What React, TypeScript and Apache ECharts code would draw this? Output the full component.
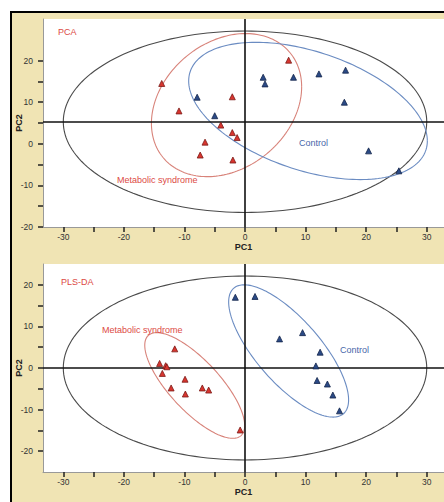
import React, { useEffect, useRef } from 'react';
import * as echarts from 'echarts';

// ---- axis ticks & labels ----
const xTickValues = [-30, -25, -20, -15, -10, -5, 0, 5, 10, 15, 20, 25, 30];
const xLabelValues = [-30, -20, -10, 0, 10, 20, 30];
const yTickValues = [-20, -15, -10, -5, 0, 5, 10, 15, 20];
const yLabelValues = [-20, -10, 0, 10, 20];

// ---- PCA scores (PC1, PC2) ----
const pcaMetabolic: [number, number][] = [
  [-13.75, 14.5], [-10.9, 7.9], [-2.1, 11.3], [-4.0, 4.5], [-2.1, 2.7],
  [-1.3, 1.5], [-6.6, 0.4], [-7.4, -2.7], [-2.0, -3.9], [7.2, 20.1],
];
const pcaControl: [number, number][] = [
  [-7.9, 11.2], [-5.0, 6.75], [3.0, 16.0], [3.3, 14.4], [8.0, 16.0],
  [12.2, 16.8], [16.6, 17.7], [16.4, 10.0], [20.4, -1.7], [25.4, -6.5],
];

// ---- PLS-DA scores ----
const plsMetabolic: [number, number][] = [
  [-11.6, 4.6], [-14.1, 1.1], [-13.1, 0.55], [-12.9, 0.3], [-13.65, -1.3],
  [-12.2, -4.8], [-9.9, -2.7], [-9.85, -6.25], [-7.05, -4.8], [-6.0, -5.3], [-0.8, -14.9],
];
const plsControl: [number, number][] = [
  [-1.6, 17.0], [1.65, 17.2], [5.7, 7.0], [9.5, 8.5], [12.4, 3.8],
  [11.7, 0.5], [11.9, -3.0], [13.6, -3.85], [14.5, -6.5], [15.6, -10.3],
];

// ---- confidence ellipses: [centre PC1, centre PC2, half-width, half-height, correlation] ----
const pcaEllipseAll = [0, 5.3, 30, 21.8, 0];
const pcaEllipseMetabolic = [-3.05, 9.3, 12.4, 17.2, 0.255];
const pcaEllipseControl = [10.4, 7.9, 19.7, 16.5, -0.436];
const plsEllipseAll = [0, 0, 30, 22.1, 0];
const plsEllipseMetabolic = [-8.3, -4.2, 8.25, 12.7, -0.76];
const plsEllipseControl = [7.2, 4.1, 9.9, 15.9, -0.74];

// ---- reference (cross) lines ----
const pcaCross = { x: 0, y: 5.3 };
const plsCross = { x: 0, y: 0 };

const FONT = '"Liberation Sans", Arial, Helvetica, sans-serif';
const RED = '#dc4a44';
const RED_LINE = '#d8837a';
const BLUE_LINE = '#6b8cc2';
const BLUE_TEXT = '#4866aa';
const DARK = '#4a4a4a';

function ellipseSeries(idx: number, params: number[], color: string) {
  return {
    type: 'custom',
    xAxisIndex: idx,
    yAxisIndex: idx,
    silent: true,
    z: 2,
    dimensions: ['cx', 'cy', 'ax', 'ay', 'r'],
    encode: { x: 0, y: 1 },
    data: [params],
    renderItem: (_p: any, api: any) => {
      const cx = api.value(0), cy = api.value(1), ax = api.value(2), ay = api.value(3), r = api.value(4);
      const k = Math.sqrt(1 - r * r);
      const pts: number[][] = [];
      const n = 180;
      for (let i = 0; i <= n; i++) {
        const t = (i / n) * Math.PI * 2;
        pts.push(api.coord([cx + ax * Math.cos(t), cy + ay * (r * Math.cos(t) + k * Math.sin(t))]));
      }
      return {
        type: 'polyline',
        shape: { points: pts },
        style: { stroke: color, lineWidth: 1.1, fill: null },
      };
    },
  };
}

function scatter(idx: number, data: [number, number][], fill: string, border: string, cross?: { x: number; y: number }) {
  const s: any = {
    type: 'scatter',
    xAxisIndex: idx,
    yAxisIndex: idx,
    symbol: 'triangle',
    symbolSize: 6,
    z: 5,
    itemStyle: { color: fill, borderColor: border, borderWidth: 0.8, opacity: 1 },
    data,
  };
  if (cross) {
    s.markLine = {
      silent: true,
      symbol: ['none', 'none'],
      label: { show: false },
      lineStyle: { color: '#111', width: 1.6, type: 'solid' },
      data: [{ xAxis: cross.x }, { yAxis: cross.y }],
      z: 3,
    };
  }
  return s;
}

function xAxis(idx: number) {
  return {
    type: 'value',
    gridIndex: idx,
    min: -33.35,
    max: 32.85,
    name: 'PC1',
    nameLocation: 'middle',
    nameGap: 15,
    nameMoveOverlap: false,
    nameTextStyle: { fontWeight: 'bold', fontSize: 9, color: '#222', fontFamily: FONT },
    axisLine: { show: true, onZero: false, lineStyle: { color: '#999', width: 1 } },
    axisTick: { show: true, inside: false, length: 5, customValues: xTickValues, lineStyle: { color: '#222', width: 1.5 } },
    axisLabel: { customValues: xLabelValues, margin: 5, fontSize: 8.5, color: '#333', fontFamily: FONT },
    splitLine: { show: false },
  };
}

function yAxis(idx: number, min: number, max: number) {
  return {
    type: 'value',
    gridIndex: idx,
    min,
    max,
    name: 'PC2',
    nameLocation: 'middle',
    nameGap: 20,
    nameRotate: 90,
    nameMoveOverlap: false,
    nameTextStyle: { fontWeight: 'bold', fontSize: 9, color: '#222', fontFamily: FONT },
    axisLine: { show: true, onZero: false, lineStyle: { color: '#999', width: 1 } },
    axisTick: { show: true, inside: false, length: 5, customValues: yTickValues, lineStyle: { color: '#222', width: 1.5 } },
    axisLabel: { customValues: yLabelValues, margin: 10, fontSize: 8.5, color: '#333', fontFamily: FONT },
    splitLine: { show: false },
  };
}

function txt(text: string, x: number, y: number, color: string) {
  return {
    type: 'text',
    x,
    y,
    z: 100,
    silent: true,
    style: { text, fill: color, fontSize: 9, fontFamily: FONT, verticalAlign: 'middle', textVerticalAlign: 'middle' },
  };
}

export default function App() {
  const ref = useRef<HTMLDivElement>(null);
  useEffect(() => {
    if (!ref.current) return;
    const chart = echarts.init(ref.current, null, { renderer: 'svg' });
    chart.setOption({
      animation: false,
      backgroundColor: '#ffffff',
      grid: [
        { left: 43, top: 19, width: 401, height: 208, show: true, backgroundColor: '#ffffff', borderWidth: 0, containLabel: false, outerBoundsMode: 'none' },
        { left: 43, top: 264, width: 401, height: 208, show: true, backgroundColor: '#ffffff', borderWidth: 0, containLabel: false, outerBoundsMode: 'none' },
      ],
      xAxis: [xAxis(0), xAxis(1)],
      yAxis: [yAxis(0, -20, 30), yAxis(1, -25, 25)],
      graphic: [
        { type: 'rect', z: -100, silent: true, shape: { x: 12, y: 13, width: 432, height: 489 }, style: { fill: '#f0e4b4' } },
        { type: 'line', z: -90, silent: true, shape: { x1: 10, y1: 12, x2: 444, y2: 12 }, style: { stroke: '#000', lineWidth: 2 } },
        { type: 'line', z: -90, silent: true, shape: { x1: 11, y1: 12, x2: 11, y2: 502 }, style: { stroke: '#000', lineWidth: 2 } },
        txt('PCA', 58, 32, RED),
        txt('Metabolic syndrome', 117, 180, RED),
        txt('Control', 299, 143, BLUE_TEXT),
        txt('PLS-DA', 61, 282, RED),
        txt('Metabolic syndrome', 102, 330, RED),
        txt('Control', 340, 350, BLUE_TEXT),
      ],
      series: [
        ellipseSeries(0, pcaEllipseAll, DARK),
        ellipseSeries(0, pcaEllipseMetabolic, RED_LINE),
        ellipseSeries(0, pcaEllipseControl, BLUE_LINE),
        ellipseSeries(1, plsEllipseAll, DARK),
        ellipseSeries(1, plsEllipseMetabolic, RED_LINE),
        ellipseSeries(1, plsEllipseControl, BLUE_LINE),
        scatter(0, pcaMetabolic, '#d8352f', '#7a1a16', pcaCross),
        scatter(0, pcaControl, '#2b4a86', '#13244a'),
        scatter(1, plsMetabolic, '#d8352f', '#7a1a16', plsCross),
        scatter(1, plsControl, '#2b4a86', '#13244a'),
      ],
    });
    return () => chart.dispose();
  }, []);
  return <div ref={ref} style={{ position: 'fixed', left: 0, top: 0, width: 444, height: 502 }} />;
}
